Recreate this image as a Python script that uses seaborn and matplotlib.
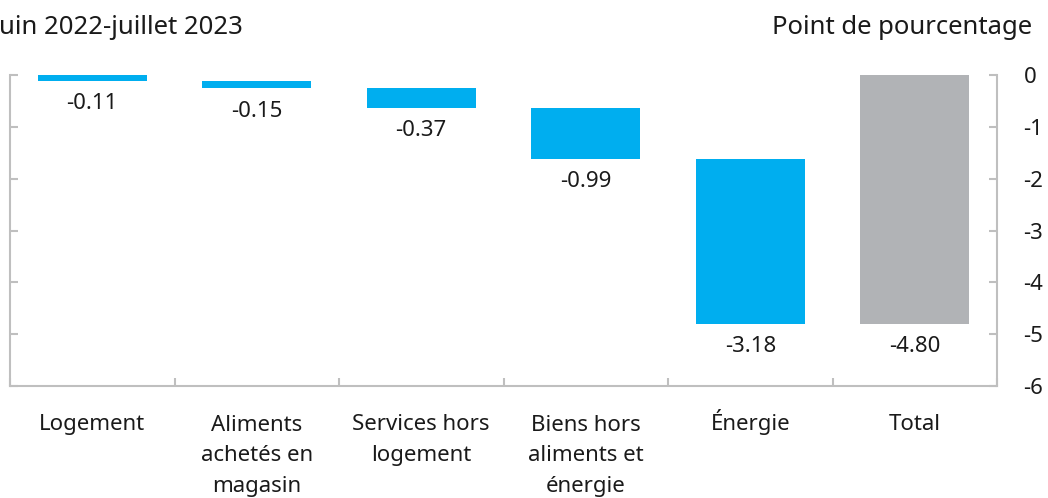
import numpy as np
import pandas as pd
import matplotlib
matplotlib.use("Agg")
import matplotlib.pyplot as plt
import seaborn as sns

categories = ["Logement", "Aliments\nachetés en\nmagasin", "Services hors\nlogement",
              "Biens hors\naliments et\nénergie", "Énergie", "Total"]
contrib = [-0.11, -0.15, -0.37, -0.99, -3.18, -4.80]
labels = ["-0.11", "-0.15", "-0.37", "-0.99", "-3.18", "-4.80"]

# point de départ de chaque barre (cascade), le total part de zéro
starts = list(np.concatenate([[0], np.cumsum(contrib[:-2])])) + [0]

df = pd.DataFrame({"cat": categories, "val": contrib, "start": starts})

sns.set_theme(style="white")
plt.rcParams["font.family"] = ["Noto Sans", "DejaVu Sans"]

blue = "#00AEEF"
grey = "#B1B3B6"
axis_col = "#BFBFBF"
txt_col = "#1a1a1a"

fig = plt.figure(figsize=(10.48, 4.98), dpi=100)
ax = fig.add_axes([10 / 1048, 1 - 386 / 498, 987 / 1048, 311 / 498])

sns.barplot(data=df, x="cat", y="val", color=blue, bottom=df["start"].tolist(),
            width=0.66, ax=ax, saturation=1, linewidth=0)
ax.patches[-1].set_facecolor(grey)

ax.set_ylim(-6, 0)
ax.set_xlim(-0.5, 5.5)
ax.set_xlabel("")
ax.set_ylabel("")

# étiquettes sous les barres
for i, (s, v, lab) in enumerate(zip(starts, contrib, labels)):
    ax.annotate(lab, (i, s + v), xytext=(0, -9), textcoords="offset points",
                ha="center", va="top", fontsize=16, color=txt_col)

# axes
for side in ["left", "right", "bottom"]:
    ax.spines[side].set_visible(True)
    ax.spines[side].set_color(axis_col)
    ax.spines[side].set_linewidth(1.5)
ax.spines["top"].set_visible(False)

ax.set_yticks(range(-6, 1))
ax.set_yticklabels([str(t) for t in range(-6, 1)])
ax.tick_params(axis="y", left=True, right=True, labelleft=False, labelright=True,
               direction="in", length=6, width=1.5, color=axis_col, pad=19,
               labelsize=16, labelcolor=txt_col)

# catégories : ligne de base de la 1re ligne à 44 px sous l'axe, 31 px entre lignes
ax.set_xticks(np.arange(6))
ax.set_xticklabels([])
ax.tick_params(axis="x", bottom=False, length=0)
for i, cat in enumerate(categories):
    n = cat.count("\n")
    ax.annotate(cat, (i, 0), xycoords=ax.get_xaxis_transform(),
                xytext=(0, -(44 + 31 * n) * 0.72), textcoords="offset points",
                ha="center", va="baseline", multialignment="center",
                fontsize=16, color=txt_col, linespacing=1.6, annotation_clip=False)
ax.set_xticks(np.arange(-0.5, 6.0, 1), minor=True)
ax.tick_params(axis="x", which="minor", bottom=True, direction="in", length=6,
               width=1.5, color=axis_col)

fig.text(243 / 1048, 0.945, "Juin 2022-juillet 2023", fontsize=18.5, ha="right",
         va="center", color=txt_col)
fig.text(0.985, 0.945, "Point de pourcentage", fontsize=18.5, ha="right", va="center",
         color=txt_col)

fig.savefig("out.png", dpi=100)
